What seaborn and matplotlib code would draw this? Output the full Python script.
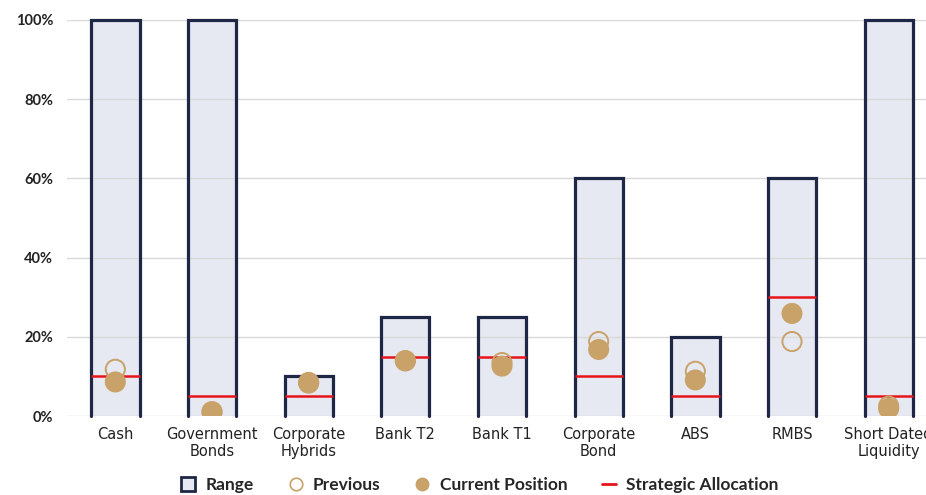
import matplotlib
matplotlib.use("Agg")
import matplotlib.pyplot as plt
import seaborn as sns
import pandas as pd
from matplotlib.lines import Line2D
from matplotlib.patches import Patch

categories = ["Cash", "Government\nBonds", "Corporate\nHybrids", "Bank T2", "Bank T1",
              "Corporate\nBond", "ABS", "RMBS", "Short Dated\nLiquidity"]
range_max = [100, 100, 10, 25, 25, 60, 20, 60, 100]
previous = [11.8, 1.0, 8.5, 14.0, 13.5, 18.8, 11.3, 18.8, 2.5]
current = [8.6, 1.1, 8.3, 13.9, 12.6, 16.8, 9.1, 25.9, 1.9]
strategic = [10, 5, 5, 15, 15, 10, 5, 30, 5]
yticks = [0, 20, 40, 60, 80, 100]
ytick_labels = ["0%", "20%", "40%", "60%", "80%", "100%"]

df = pd.DataFrame({"cat": categories, "range": range_max, "prev": previous,
                   "cur": current, "strat": strategic})

sns.set_theme(style="white")
plt.rcParams["font.family"] = ["Lato", "DejaVu Sans"]

fig = plt.figure(figsize=(9.26, 4.95), dpi=100)
ax = fig.add_axes([67 / 926, 1 - 416 / 495, 870 / 926, 396 / 495])

BAR_FILL = "#E6E9F2"
EDGE = "#1F2746"
GOLD = "#C9A269"
RED = "#E8141B"

sns.barplot(data=df, x="cat", y="range", ax=ax, color=BAR_FILL, width=0.5,
            saturation=1, edgecolor="none", zorder=1)

for p in ax.patches:
    x0 = p.get_x()
    x1 = x0 + p.get_width()
    h = p.get_height()
    ax.plot([x0, x0, x1, x1], [0, h, h, 0], color=EDGE, lw=2.3, zorder=3,
            solid_joinstyle="miter", clip_on=False)

for i, s in enumerate(strategic):
    ax.hlines(s, i - 0.25, i + 0.25, color=RED, lw=1.8, zorder=4)

sns.scatterplot(data=df, x="cat", y="prev", ax=ax, marker="o", s=190,
                facecolor="none", edgecolor=GOLD, linewidth=1.4, zorder=5, legend=False)
sns.scatterplot(data=df, x="cat", y="cur", ax=ax, marker="o", s=230,
                color=GOLD, edgecolor="none", zorder=6, legend=False)

ax.set_ylim(0, 100)
ax.set_xlim(-0.5, len(categories) - 0.5)
ax.set_yticks(yticks)
ax.set_yticklabels(ytick_labels, fontsize=10.5, fontweight="bold", color="#222222")
ax.tick_params(axis="y", length=0, pad=10)
ax.tick_params(axis="x", length=0, pad=8)
for lbl in ax.get_xticklabels():
    lbl.set_fontsize(10.5)
    lbl.set_family(["DejaVu Sans"])
    lbl.set_color("#222222")
    lbl.set_linespacing(1.15)
ax.set_xlabel("")
ax.set_ylabel("")
ax.yaxis.grid(True, color="#D9D9D9", lw=1.0, zorder=2)
ax.set_axisbelow(False)
for sp in ax.spines.values():
    sp.set_visible(False)

handles = [
    Patch(facecolor=BAR_FILL, edgecolor=EDGE, linewidth=2, label="Range"),
    Line2D([], [], marker="o", ls="none", markerfacecolor="none", markeredgecolor=GOLD,
           markersize=9, markeredgewidth=1.2, label="Previous"),
    Line2D([], [], marker="o", ls="none", markerfacecolor=GOLD, markeredgecolor=GOLD,
           markersize=9, label="Current Position"),
    Line2D([], [], color=RED, lw=2, label="Strategic Allocation"),
]
fig.legend(handles=handles, loc="center", bbox_to_anchor=(480 / 926, 1 - 485 / 495),
           ncol=4, frameon=False, prop={"weight": "bold", "size": 12.5},
           handlelength=0.8, handletextpad=0.6, columnspacing=2.0, handleheight=0.8)

fig.savefig("out.png", dpi=100)
